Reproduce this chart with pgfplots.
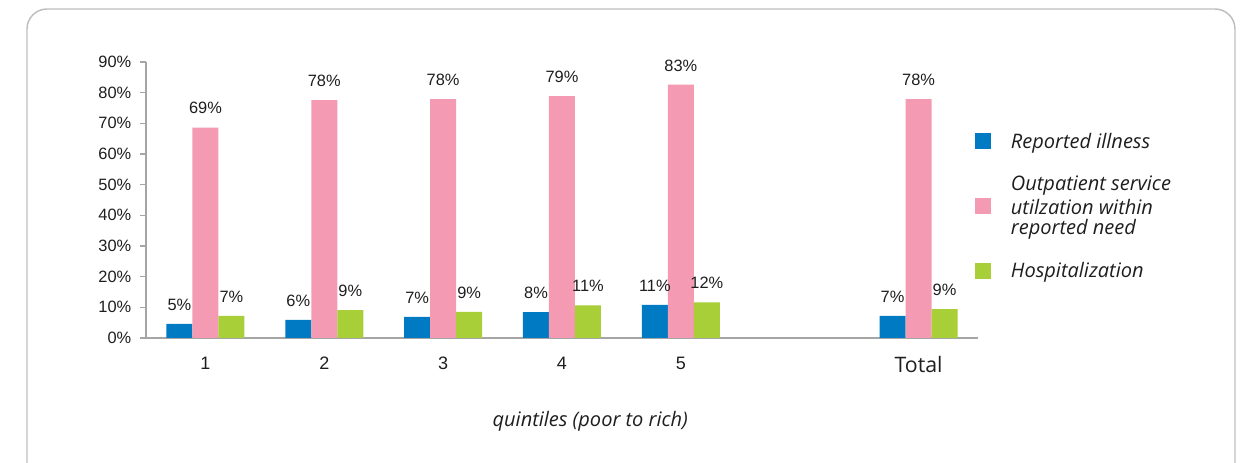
\documentclass[border=0pt]{standalone}
\usepackage{fontspec}
\setmainfont{Liberation Sans}
\newfontfamily\segoe{Open Sans}
\usepackage{pgfplots}
\pgfplotsset{compat=1.18}
\definecolor{cblue}{RGB}{0,122,194}
\definecolor{cpink}{RGB}{244,154,179}
\definecolor{cgreen}{RGB}{168,206,56}
\definecolor{axgray}{RGB}{165,165,165}
\definecolor{bordergray}{RGB}{190,190,190}
\definecolor{txt}{RGB}{30,30,30}
\begin{document}
\begin{tikzpicture}[x=1pt,y=1pt]
\useasboundingbox (0,0) rectangle (932.25,347.25);
\begin{scope}
\clip (0,0) rectangle (932.25,347.25);
\draw[bordergray, line width=1.1pt, rounded corners=15pt] (20.25,-30) rectangle (926.25,340.5);
\end{scope}
\begin{axis}[
  at={(109.5pt,93.75pt)}, anchor=south west,
  scale only axis, width=624pt, height=207pt,
  xmin=0.5, xmax=7.5, ymin=0, ymax=90,
  ybar=0pt, bar width=19.5pt,
  axis x line*=bottom, axis y line*=left,
  axis line style={axgray, line width=0.8pt},
  x axis line style={-}, y axis line style={-},
  xtick={1,2,3,4,5,7},
  xticklabels={1,2,3,4,5,{\segoe\fontsize{16pt}{18pt}\selectfont Total}},
  xtick style={draw=none},
  x tick label style={font=\fontsize{13.5pt}{15pt}\selectfont, text=txt, yshift=-6pt},
  ytick={0,10,...,90},
  yticklabel={\pgfmathprintnumber{\tick}\%},
  ytick style={axgray, line width=0.8pt},
  tick align=outside, major tick length=4.5pt,
  y tick label style={font=\fontsize{12.3pt}{14pt}\selectfont, text=txt, xshift=-3pt},
  /pgf/number format/assume math mode=true,
  xlabel={\segoe\itshape quintiles (poor to rich)},
  xlabel style={at={(axis description cs:0.534,-0.30)}, anchor=center, font=\fontsize{15pt}{17pt}\selectfont, text=txt},
  nodes near coords={\pgfmathprintnumber[fixed,precision=0]{\pgfplotspointmeta}\%},
  every node near coord/.append style={anchor=center, yshift=14.5pt, font=\fontsize{12.3pt}{14pt}\selectfont, text=txt},
  legend style={at={(axis description cs:0.996,0.754)}, anchor=north west, draw=none, fill=none,
    font=\segoe\itshape\fontsize{15pt}{16.1pt}\selectfont, text=txt, row sep=15.5pt, column sep=13pt, inner sep=0pt},
  legend cell align=left,
  legend image code/.code={\fill[#1] (0pt,-6pt) rectangle (12pt,6pt);},
]
\addplot[fill=cblue, draw=none] coordinates {(1,4.6) (2,5.9) (3,6.9) (4,8.4) (5,10.8) (7,7.2)};
\addlegendentry{Reported illness}
\addplot[fill=cpink, draw=none] coordinates {(1,68.6) (2,77.6) (3,77.9) (4,78.9) (5,82.6) (7,77.9)};
\addlegendentry{\shortstack[l]{Outpatient service\\utilzation within\\reported need}}
\addplot[fill=cgreen, draw=none] coordinates {(1,7.2) (2,9.1) (3,8.5) (4,10.6) (5,11.6) (7,9.4)};
\addlegendentry{Hospitalization}
\end{axis}
\end{tikzpicture}
\end{document}
